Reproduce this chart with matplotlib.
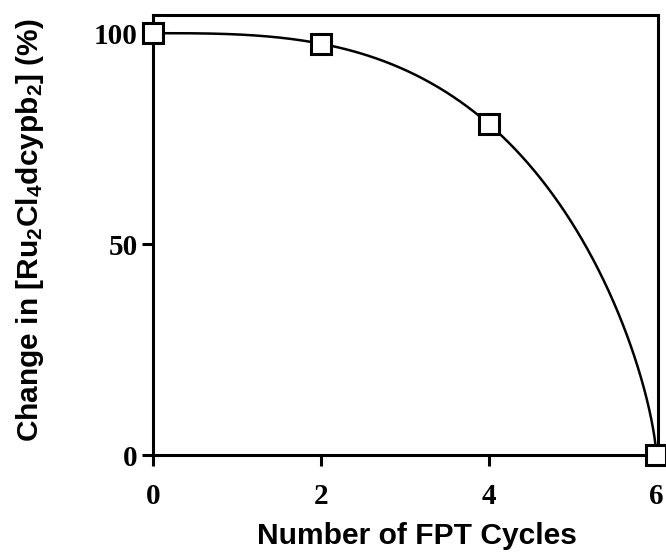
import numpy as np
import matplotlib
matplotlib.use("Agg")
import matplotlib.pyplot as plt

# Data
cycles = [0, 2, 4, 6]
change = [100.0, 97.5, 78.5, 0.0]
xticks = [0, 2, 4, 6]
yticks = [0, 50, 100]

plt.rcParams['mathtext.default'] = 'regular'

fig = plt.figure(figsize=(6.66, 5.57), dpi=100)
ax = fig.add_axes([0.2297, 0.1831, 0.7583, 0.7899])

# smooth fitted curve y = 100*(1-(x/xmax)^p)^q, p and q fitted to data by least squares
xs = np.array(cycles, float)
ys = np.array(change, float)
xmax = xs.max()
best = (np.inf, 2.0, 0.5)
for p in np.linspace(1.0, 6.0, 501):
    base = np.clip(1 - (xs / xmax) ** p, 0, None)
    for q in np.linspace(0.2, 1.5, 261):
        e = np.sum((100 * base ** q - ys) ** 2)
        if e < best[0]:
            best = (e, p, q)
_, p, q = best
xf = np.linspace(0, xmax, 800)
yf = 100 * np.clip(1 - (xf / xmax) ** p, 0, None) ** q
ax.plot(xf, yf, color='black', lw=1.8, clip_on=False, zorder=3)

ax.plot(cycles, change, linestyle='none', marker='s', markersize=14.5,
        markerfacecolor='white', markeredgecolor='black', markeredgewidth=2.2,
        clip_on=False, zorder=4)

ax.set_xlim(0, 6.02)
ax.set_ylim(0, 104.3)
ax.set_xticks(xticks)
ax.set_yticks(yticks)
ax.set_xticklabels([str(v) for v in xticks], fontfamily='Liberation Serif',
                   fontweight='bold', fontsize=21)
ax.set_yticklabels([str(v) for v in yticks], fontfamily='Liberation Serif',
                   fontweight='bold', fontsize=21)
ax.tick_params(axis='both', direction='out', length=8, width=2.2, color='black')
ax.tick_params(axis='x', pad=12)
ax.tick_params(axis='y', pad=3)
for s in ax.spines.values():
    s.set_linewidth(2.2)
    s.set_color('black')

ax.set_xlabel('Number of FPT Cycles', fontfamily='Liberation Sans',
              fontweight='bold', fontsize=21.6)
ax.xaxis.label.set_va('baseline')
ax.xaxis.set_label_coords(0.523, -0.2023)
ax.set_ylabel('Change in [Ru$_2$Cl$_4$dcypb$_2$] (%)', fontfamily='Liberation Sans',
              fontweight='bold', fontsize=21.5)
ax.yaxis.set_label_coords(-0.212, 0.511)

fig.savefig('out.png', dpi=100)
